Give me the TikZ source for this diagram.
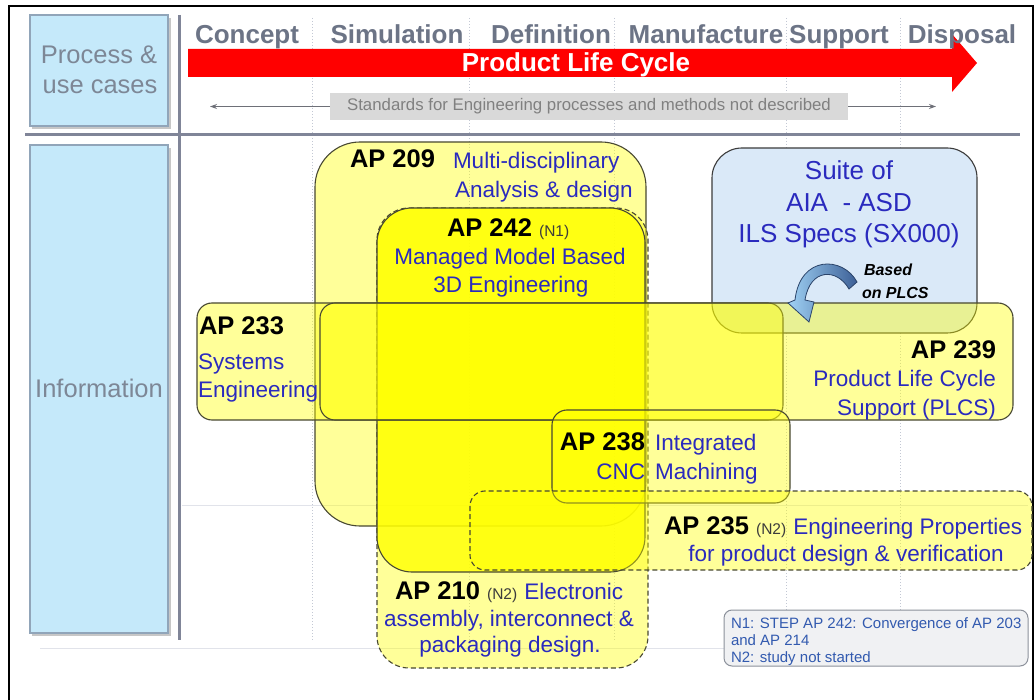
\documentclass[tikz,border=0pt]{standalone}
\usepackage{fontspec}
\setmainfont{Liberation Sans}
\usetikzlibrary{arrows.meta}
\definecolor{phasegray}{RGB}{108,116,134}
\definecolor{sidegray}{RGB}{125,135,150}
\definecolor{bluetext}{RGB}{42,42,190}
\definecolor{ngray}{RGB}{60,60,60}
\definecolor{boxline}{RGB}{72,72,50}
\definecolor{sidefill}{RGB}{197,233,250}
\definecolor{sideline}{RGB}{145,165,185}
\definecolor{sepgray}{RGB}{128,133,152}
\definecolor{gridgray}{RGB}{195,200,212}
\definecolor{suitefill}{RGB}{218,233,248}
\definecolor{stdfill}{RGB}{217,217,217}
\definecolor{stdtext}{RGB}{128,128,128}
\definecolor{stdarrow}{RGB}{110,112,120}
\definecolor{notefill}{RGB}{240,241,243}
\definecolor{noteline}{RGB}{140,145,155}
\definecolor{notetext}{RGB}{50,90,175}
\definecolor{ylw}{RGB}{255,255,0}
\definecolor{arrowdark}{RGB}{60,95,150}
\definecolor{arrowlight}{RGB}{160,210,245}
\newcommand\nnote[1]{{\fontsize{15.5}{18}\selectfont\mdseries\color{ngray}#1}}
\newcommand\bluepart[1]{{\fontsize{22.5}{26}\selectfont\mdseries\color{bluetext}#1}}
\tikzset{
  lbl/.style={inner sep=0pt, outer sep=0pt},
  phase/.style={lbl, anchor=base, text=phasegray, font=\fontsize{26}{30}\selectfont\bfseries},
  side/.style={lbl, anchor=base, text=sidegray, font=\fontsize{25.5}{30}\selectfont},
  apb/.style={lbl, text=black, font=\fontsize{25.5}{30}\selectfont\bfseries},
  bt/.style={lbl, text=bluetext, font=\fontsize{22.5}{26}\selectfont},
  suite/.style={lbl, anchor=base, text=bluetext, font=\fontsize{26}{30}\selectfont},
  based/.style={lbl, text=black, font=\fontsize{16}{19}\selectfont\bfseries\itshape},
  notetxt/.style={lbl, anchor=base west, text=notetext, font=\fontsize{15}{17}\selectfont},
  apbox/.style={draw=boxline, line width=1.1pt, fill=ylw, fill opacity=0.4},
  apdash/.style={apbox, dash pattern=on 5pt off 3pt},
  sidebox/.style={draw=sideline, fill=sidefill, line width=1.2pt},
  grid/.style={gridgray, line width=0.8pt, dash pattern=on 1pt off 2pt},
}
\begin{document}
\begin{tikzpicture}[x=1pt,y=-1pt]
\useasboundingbox (0,0) rectangle (1036,700);
\fill[white] (0,0) rectangle (1036,700);

% faint grid
\foreach \gx in {312,469,614,786,900} \draw[grid] (\gx,18) -- (\gx,640);
\draw[gridgray!50, line width=0.8pt] (182,505) -- (1028,505);
\draw[gridgray!50, line width=0.8pt] (40,648) -- (1028,648);

% outer frame
\draw[line width=2.5pt] (9,712) -- (9,6) -- (1033,6) -- (1033,712);

% separators
\draw[sepgray, line width=3pt] (179,15) -- (179,640);
\draw[sepgray, line width=3pt] (25,134.5) -- (1020,134.5);

% left boxes
\fill[black!22] (32,18) rectangle (171,129);
\draw[sidebox] (30,15) rectangle (168,126);
\fill[black!22] (32,148) rectangle (171,636);
\draw[sidebox] (30,145) rectangle (168,633);
\node[side] (pu1) at (99,64) {Process \&};
\node[side] (pu2) at (100,94) {use cases};
\node[side] (info) at (99,397) {Information};

% red life-cycle arrow
\fill[red] (188,49) -- (952,49) -- (952,34) -- (977,63) -- (952,92) -- (952,77) -- (188,77) -- cycle;
\node[lbl, anchor=base, text=white, font=\fontsize{26}{30}\selectfont\bfseries] (plc) at (576,72) {Product Life Cycle};

% phases
\node[phase] (ph1) at (247,44) {Concept};
\node[phase] (ph2) at (397,44) {Simulation};
\node[phase] (ph3) at (551,44) {Definition};
\node[phase] (ph4) at (706,44) {Manufacture};
\node[phase] (ph5) at (839,44) {Support};
\node[phase] (ph6) at (962,44) {Disposal};

% standards
\node[fill=stdfill, minimum width=518pt, minimum height=27pt, inner sep=0pt, text=stdtext, font=\fontsize{16.8}{19}\selectfont] (std) at (589,106.5) {Standards for Engineering processes and methods not described};
\coordinate (stdL) at (210,106.5);
\coordinate (stdR) at (936,106.5);
\draw[stdarrow, line width=1pt, -{Stealth[length=7pt,width=5pt]}] (std.west) -- (stdL);
\draw[stdarrow, line width=1pt, -{Stealth[length=7pt,width=5pt]}] (std.east) -- (stdR);

% information boxes
\draw[apbox, rounded corners=45pt] (315,142) rectangle (646,526);
\draw[apdash, rounded corners=32pt] (377,208) rectangle (648,668);
\draw[apbox, fill opacity=0.8, rounded corners=35pt] (377,208) rectangle (645,572);
\draw[draw=ngray, line width=1.1pt, fill=suitefill, rounded corners=30pt] (712,148) rectangle (977,333);
\draw[apbox, rounded corners=15pt] (197,303) rectangle (783,420);
\draw[apbox, rounded corners=15pt] (320,303) rectangle (1013,420);
\draw[apbox, rounded corners=15pt] (552,410) rectangle (790,503);
\draw[apdash, rounded corners=15pt] (470,491) rectangle (1032,570);

% curved arrow
\shadedraw[left color=arrowlight, right color=arrowdark, draw=arrowdark!70!black, line width=0.8pt]
  (857,282) .. controls (843,256) and (800,255) .. (795,300)
  -- (788,303) -- (809,322) -- (814,302) -- (805,300)
  .. controls (810,268) and (837,268) .. (849,289) -- cycle;

% texts
\node[apb, anchor=base west] (t209) at (350,168) {AP 209};
\node[bt, anchor=base west] (t209a) at (453,169) {Multi-disciplinary};
\node[bt, anchor=base west] (t209b) at (455,198) {Analysis \& design};

\node[apb, anchor=base west] (t242) at (447,237) {AP 242 \nnote{(N1)}};
\node[bt, anchor=base] (t242a) at (510,265) {Managed Model Based};
\node[bt, anchor=base] (t242b) at (511,293) {3D Engineering};

\node[apb, anchor=base west] (t233) at (199,335) {AP 233};
\node[bt, anchor=base west] (t233a) at (198,370) {Systems};
\node[bt, anchor=base west] (t233b) at (198,397) {Engineering};

\node[apb, anchor=base east] (t239) at (996,359) {AP 239};
\node[bt, anchor=base east] (t239a) at (996,387) {Product Life Cycle};
\node[bt, anchor=base east] (t239b) at (996,415) {Support (PLCS)};

\node[apb, anchor=base east] (t238) at (645,450) {AP 238};
\node[bt, anchor=base east] (t238a) at (645,479) {CNC};
\node[bt, anchor=base west] (t238b) at (655,450) {Integrated};
\node[bt, anchor=base west] (t238c) at (655,479) {Machining};

\node[apb, anchor=base west] (t235) at (664,534) {AP 235 \nnote{(N2)} \bluepart{Engineering Properties}};
\node[bt, anchor=base] (t235a) at (846,561) {for product design \& verification};

\node[apb, anchor=base west] (t210) at (395,599) {AP 210 \nnote{(N2)} \bluepart{Electronic}};
\node[bt, anchor=base] (t210a) at (509,626) {assembly, interconnect \&};
\node[bt, anchor=base] (t210b) at (510,652) {packaging design.};

\node[suite] (s1) at (849,180) {Suite of};
\node[suite] (s2) at (849,212) {AIA\ \ - ASD};
\node[suite] (s3) at (849,243) {ILS Specs (SX000)};

\node[based, anchor=base west] (b1) at (864,276) {Based};
\node[based, anchor=base west] (b2) at (862,299) {on PLCS};

% notes
\node[draw=noteline, fill=notefill, rounded corners=8pt, line width=1pt, minimum width=304pt, minimum height=56pt, inner sep=0pt] (note) at (876,638) {};
\node[notetxt] (n1) at (731,628) {N1: STEP AP 242: Convergence of AP 203};
\node[notetxt] (n2) at (731,645) {and AP 214};
\node[notetxt] (n3) at (731,662) {N2: study not started};
\end{tikzpicture}
\end{document}
